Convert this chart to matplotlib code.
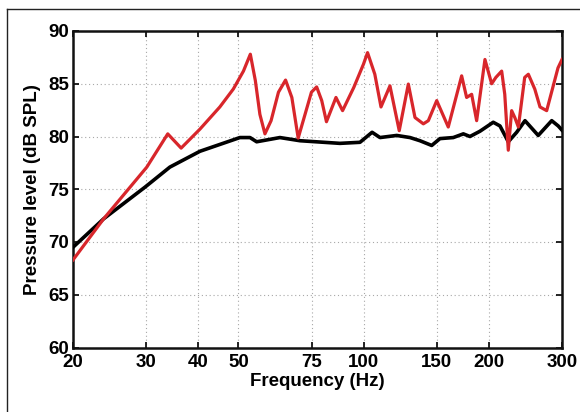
import matplotlib
matplotlib.use("Agg")
import matplotlib.pyplot as plt
from matplotlib.ticker import FixedLocator, NullLocator
from matplotlib.lines import Line2D

plt.rcParams['font.family'] = ['Liberation Sans', 'DejaVu Sans']

# Red (peaky) response
red_freq = [20, 23.7, 30.1, 33.8, 36.4, 40.4, 45.1, 48.6, 51.4, 53.4, 54.9, 56.3,
            57.9, 59.9, 62.4, 64.9, 67.2, 69.6, 72.3, 74.9, 77.1, 79.3, 81.4, 85.8,
            89.0, 94.7, 99.9, 102.2, 106.4, 110.1, 115.7, 121.8, 128.1, 132.9, 139.2,
            143.1, 149.9, 159.8, 172.1, 176.9, 181.9, 187.0, 195.8, 203.2, 208, 214.8,
            218.5, 222.8, 227, 231, 235.6, 244, 249, 258, 265.6, 275.6, 293.4, 300]
red_level = [68.3, 72.2, 77.1, 80.25, 78.9, 80.7, 82.8, 84.5, 86.2, 87.8, 85.3, 82.1,
             80.25, 81.5, 84.2, 85.35, 83.7, 79.85, 82.1, 84.2, 84.7, 83.4, 81.4, 83.7,
             82.45, 84.65, 86.85, 87.95, 85.9, 82.8, 84.8, 80.55, 84.97, 81.8, 81.2,
             81.5, 83.4, 80.9, 85.75, 83.7, 84.0, 81.5, 87.3, 85.0, 85.6, 86.2,
             84.0, 78.7, 82.45, 81.8, 80.9, 85.6, 85.9, 84.5, 82.8, 82.45, 86.5, 87.3]

# Black (smooth) response
black_freq = [20, 23.7, 29.8, 34.2, 40.4, 50.4, 53.3, 55.3, 62.9, 70.3, 87.7, 98.0,
              104.8, 109.5, 120.1, 129.3, 136.6, 145.8, 152.6, 164.3, 173.7, 180.2,
              190.5, 205, 212.8, 222.8, 233.4, 244.4, 263, 283.4, 293.8, 300]
black_level = [69.5, 72.2, 75.2, 77.1, 78.6, 79.9, 79.9, 79.5, 79.9, 79.6, 79.35, 79.45,
               80.4, 79.9, 80.1, 79.9, 79.6, 79.15, 79.8, 79.9, 80.25, 80.0,
               80.5, 81.35, 81.0, 79.5, 80.4, 81.5, 80.1, 81.5, 81.0, 80.6]

x_ticks = [20, 30, 40, 50, 75, 100, 150, 200, 300]
y_ticks = [60, 65, 70, 75, 80, 85, 90]

fig = plt.figure(figsize=(5.8, 4.12), dpi=100)
ax = fig.add_axes([73/580, 1 - 347.5/412, (562 - 73)/580, (347.5 - 31)/412])

ax.plot(black_freq, black_level, color='black', lw=2.6, solid_joinstyle='round', zorder=3)
ax.plot(red_freq, red_level, color='#d8262b', lw=2.3, solid_joinstyle='round', zorder=4)

ax.set_xscale('log')
ax.set_xlim(20, 300)
ax.set_ylim(60, 90)
ax.xaxis.set_major_locator(FixedLocator(x_ticks))
ax.xaxis.set_minor_locator(NullLocator())
ax.set_xticklabels([str(t) for t in x_ticks])
ax.set_yticks(y_ticks)
ax.set_yticklabels([str(t) for t in y_ticks])

ax.grid(True, which='major', linestyle=(0, (1, 2.5)), color='#a8a8a8', lw=0.8)
ax.tick_params(direction='in', length=4, width=1.2, top=True, right=True,
               labelsize=13.5)
ax.tick_params(axis='x', pad=5)
ax.tick_params(axis='y', pad=3)
for lab in ax.get_xticklabels() + ax.get_yticklabels():
    lab.set_fontweight('bold')
for s in ax.spines.values():
    s.set_linewidth(1.8)
    s.set_color('#111111')

ax.set_xlabel('Frequency (Hz)', fontsize=13.5, fontweight='bold', labelpad=1)
ax.set_ylabel('Pressure level (dB SPL)', fontsize=13.5, fontweight='bold', labelpad=5)

# outer frame lines (top and left)
fig.add_artist(Line2D([7/580, 1], [1 - 9/412, 1 - 9/412], transform=fig.transFigure,
                      color='#222222', lw=1.0))
fig.add_artist(Line2D([7/580, 7/580], [0, 1 - 9/412], transform=fig.transFigure,
                      color='#222222', lw=1.0))

fig.savefig('out.png', dpi=100)
